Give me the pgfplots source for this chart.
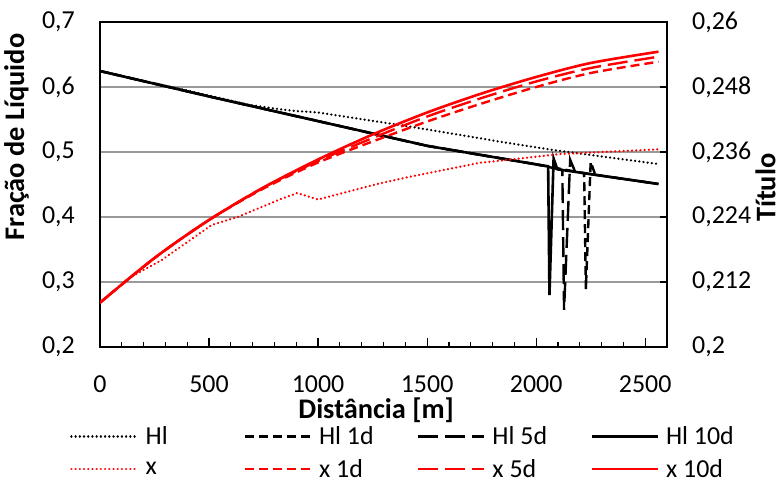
\documentclass[border=0pt]{standalone}
\usepackage{fontspec}
\setmainfont{Carlito}
\usepackage{pgfplots}
\pgfplotsset{compat=1.18}
\usepackage{pgfplotstable}

% Hl series (left axis)
\pgfplotstableread{
x y
0 0.6246
321 0.6005
688 0.5723
826 0.5657
900 0.5630
1000 0.5608
1422 0.5390
1743 0.5211
1835 0.5158
2078 0.5031
2561 0.4815
}\hlzero
\pgfplotstableread{
x y
0 0.6246
500 0.5855
1000 0.5475
1500 0.5095
2000 0.4810
2220 0.4674
2228 0.2890
2250 0.4850
2271 0.4649
2561 0.4508
}\hlone
\pgfplotstableread{
x y
0 0.6246
500 0.5855
1000 0.5475
1500 0.5095
2000 0.4810
2120 0.4723
2128 0.2570
2156 0.4880
2179 0.4694
2561 0.4508
}\hlfive
\pgfplotstableread{
x y
0 0.6246
500 0.5855
1000 0.5475
1500 0.5095
2000 0.4810
2055 0.4780
2061 0.2800
2080 0.4900
2097 0.4734
2561 0.4508
}\hlten

% x series (right axis)
\pgfplotstableread{
x y
0 0.20818
130 0.21268
283 0.21606
512 0.22252
635 0.22406
818 0.22714
905 0.22843
1000 0.22723
1078 0.22806
1284 0.23022
1422 0.23144
1743 0.23402
1835 0.23439
2110 0.23563
2561 0.23650
}\xzero
\pgfplotstableread{
x y
0 0.20818
250 0.21643
500 0.22345
750 0.22926
1000 0.23406
1250 0.23794
1500 0.24163
1750 0.24495
2000 0.24800
2250 0.25058
2561 0.25267
}\xone
\pgfplotstableread{
x y
0 0.20818
250 0.21643
500 0.22345
750 0.22945
1000 0.23434
1250 0.23858
1500 0.24255
1750 0.24597
2000 0.24902
2250 0.25151
2561 0.25359
}\xfive
\pgfplotstableread{
x y
0 0.20818
250 0.21643
500 0.22345
750 0.22945
1000 0.23462
1250 0.23923
1500 0.24329
1750 0.24680
2000 0.24985
2250 0.25243
2561 0.25452
}\xten

\pgfplotsset{
  dotline/.style={line width=2.5bp, line cap=round, dash pattern=on 0.01bp off 4.2bp},
  shortdash/.style={line width=2.4bp, dash pattern=on 9bp off 5bp},
  longdash/.style={line width=2.4bp, dash pattern=on 20bp off 7bp},
  fullline/.style={line width=2.6bp},
  base/.style={
    width=567bp, height=325bp, scale only axis,
    xmin=0, xmax=2600,
    /pgf/number format/.cd, use comma, 1000 sep={}, fixed, precision=3, assume math mode=true,
    /pgfplots/.cd,
    tick align=inside,
  },
}
\newcommand\titlefont{\fontsize{28.5}{33}\selectfont\bfseries}

\begin{document}
\begin{tikzpicture}[font=\fontsize{26}{31}\selectfont]
\useasboundingbox (-100bp,-136bp) rectangle (683bp,347bp);

\begin{axis}[
  base,
  ymin=0.2, ymax=0.7,
  ytick={0.2,0.3,0.4,0.5,0.6,0.7},
  xtick={0,500,1000,1500,2000,2500},
  minor x tick num=4,
  xtick pos=bottom, ytick pos=left,
  ymajorgrids,
  major grid style={draw=black!40, line width=1.5bp},
  axis line style={line width=2bp},
  ytick style={draw=none},
  x tick style={black, line width=1.2bp},
  major tick length=9bp, minor tick length=5bp,
  xticklabel style={anchor=north, inner sep=0pt, yshift=-28bp},
  yticklabel style={anchor=east, inner sep=0pt, xshift=-25bp},
  xlabel={Distância [m]},
  ylabel={Fração de Líquido},
  xlabel style={at={(axis description cs:0.487,-0.194)}, anchor=center, font=\titlefont},
  ylabel style={at={(axis description cs:-0.134,0.646)}, anchor=base, font=\titlefont},
]
\addplot[black, dotline] table {\hlzero};
\addplot[black, shortdash] table {\hlone};
\addplot[black, longdash] table {\hlfive};
\addplot[black, fullline] table {\hlten};
\end{axis}

\begin{axis}[
  base,
  ymin=0.2, ymax=0.26,
  ytick={0.2,0.212,0.224,0.236,0.248,0.26},
  hide x axis,
  axis y line*=right,
  axis line style={line width=2bp},
  y tick style={black, line width=1.2bp},
  major tick length=7bp,
  yticklabel style={anchor=west, inner sep=0pt, xshift=25bp},
  ylabel={Título},
  ylabel style={at={(axis description cs:1.191,0.49)}, anchor=base, font=\titlefont},
  legend columns=4,
  legend style={at={(axis description cs:-0.053,-0.245)}, anchor=north west,
    draw=none, fill=none, inner sep=0pt, row sep=13bp,
    nodes={inner sep=0pt, anchor=west},
    /tikz/every odd column/.append style={column sep=7bp},
    /tikz/every even column/.append style={column sep=20bp}},
  legend image code/.code={\draw[#1] (0bp,0bp) -- (66bp,0bp);},
]
\addlegendimage{black, dotline}
\addlegendimage{black, shortdash}
\addlegendimage{black, longdash}
\addlegendimage{black, fullline}
\addplot[red, dotline] table {\xzero};
\addplot[red, shortdash, smooth] table {\xone};
\addplot[red, longdash, smooth] table {\xfive};
\addplot[red, fullline, smooth] table {\xten};
\legend{\makebox[78bp][l]{Hl}, \makebox[78bp][l]{Hl 1d}, \makebox[78bp][l]{Hl 5d}, \makebox[78bp][l]{Hl 10d},
  \makebox[78bp][l]{x}, \makebox[78bp][l]{x 1d}, \makebox[78bp][l]{x 5d}, \makebox[78bp][l]{x 10d}}
\end{axis}
\end{tikzpicture}
\end{document}
